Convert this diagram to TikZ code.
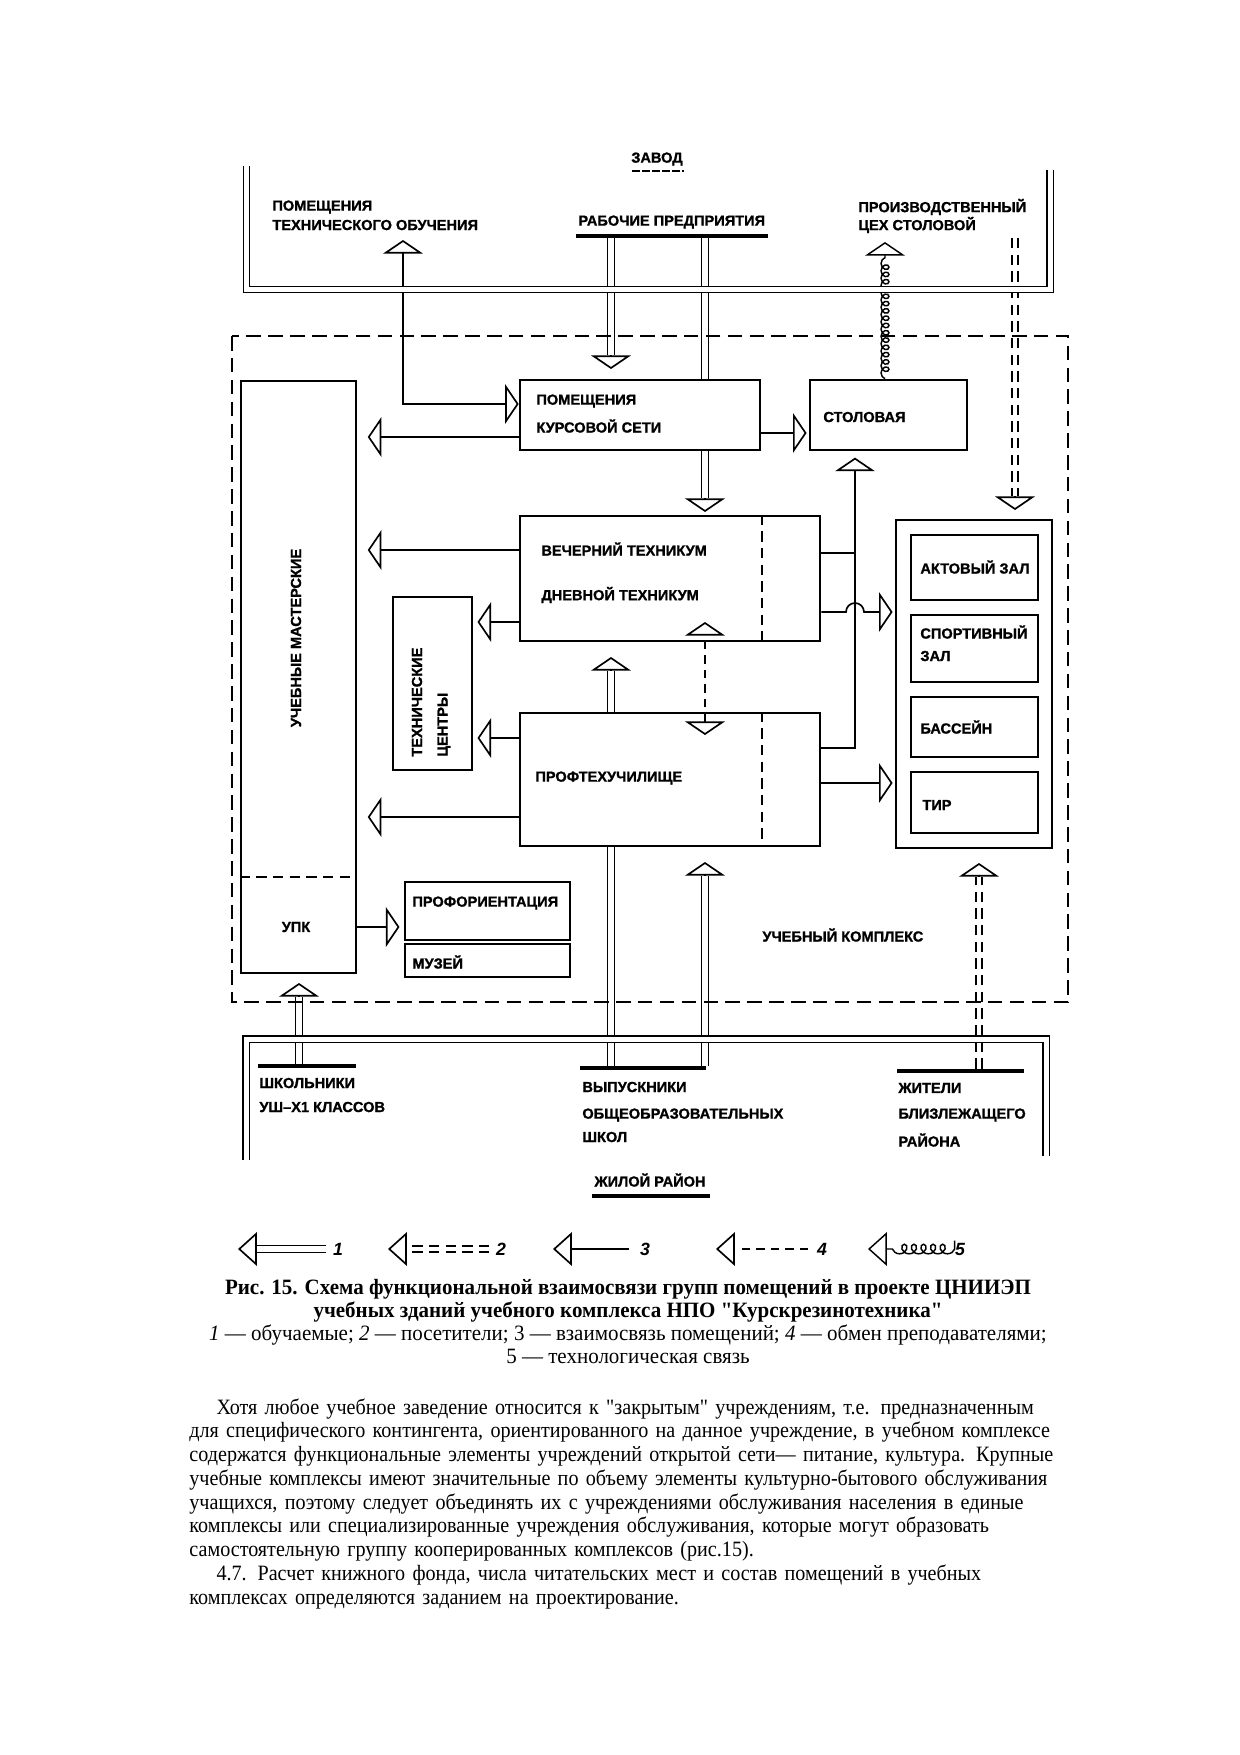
\documentclass[tikz,border=0pt]{standalone}
\usepackage{fontspec}
\setmainfont{Liberation Serif}
\setsansfont{Liberation Sans}[BoldFeatures = {FakeBold = 1.2}]
\newfontfamily\captfont{Liberation Serif}[FakeStretch = 0.96]
\newfontfamily\parafont{Liberation Serif}[FakeStretch = 0.92]
\usetikzlibrary{arrows.meta, fit, decorations.pathmorphing}

\newcommand\fullline[1]{\par\hbox to \hsize{#1}}
\newcommand\lastline[1]{\par\hbox{#1}}

\tikzset{
	lab/.style = {font = \sffamily\bfseries\fontsize{7}{7.5}\selectfont, inner sep = 0pt},
	labw/.style = {lab, anchor = west},
	legnum/.style = {font = \sffamily\bfseries\itshape\fontsize{8.5}{9}\selectfont, inner sep = 0pt},
	box/.style = {draw, line width = 1.3pt, inner sep = 0pt},
	inbox/.style = {draw, line width = 1pt, inner sep = 0pt},
	barbox/.style = {fill, inner sep = 0pt},
	inner dash/.style = {line width = 1.1pt, dash pattern = on 5pt off 3pt},
	frame/.style = {line width = 0.6pt, double, double distance = 2.4pt},
	rel/.style = {line width = 0.8pt, ->},
	obuch/.style = {line width = 0.6pt, double, double distance = 2.6pt},
	obuch arrow/.style = {rel, postaction = {obuch, draw, -, shorten >= #1}},
	obuch arrow/.default = 6.8pt,
	visit/.style = {line width = 0.6pt, double, double distance = 2.2pt, dash pattern = on 5pt off 3pt},
	visit arrow/.style = {rel, dash pattern = on 5pt off 3pt, postaction = {visit, draw, -, shorten >= #1}},
	visit arrow/.default = 6.8pt,
	teach/.style = {line width = 0.8pt, dash pattern = on 4pt off 3pt},
	techno/.style = {line width = 0.7pt, decorate,
		decoration = {coil, amplitude = 1.9pt, segment length = 3.5pt, aspect = 1, post length = 7pt}},
	capt/.style = {font = \captfont\fontsize{10.5}{11}\selectfont, align = center, inner sep = 0pt},
	para/.style = {font = \parafont\fontsize{10.5}{11.4}\selectfont, text width = 413pt, inner sep = 0pt},
}

\begin{document}
\begin{tikzpicture}[x = 0.48pt, y = -0.48pt, >= {Triangle[open, length = 6.5pt, width = 19pt]}]

	\useasboundingbox (0, 0) rectangle (1240, 1755);

	% Groups of rooms

	\node [box, fit = {(241, 381) (356, 973)}] (um) {};
	\node [box, fit = {(520, 380) (760, 450)}] (pks) {};
	\node [box, fit = {(810, 380) (967, 450)}] (stol) {};
	\node [box, fit = {(520, 516) (820, 641)}] (vt) {};
	\node [box, fit = {(520, 713) (820, 846)}] (ptu) {};
	\node [box, fit = {(393, 597) (472, 770)}] (tc) {};
	\node [box, fit = {(896, 520) (1052, 848)}] (vb) {};
	\node [inbox, fit = {(911, 535) (1038, 600)}] (akt) {};
	\node [inbox, fit = {(911, 615) (1038, 682)}] (sport) {};
	\node [inbox, fit = {(911, 697) (1038, 757)}] (bass) {};
	\node [inbox, fit = {(911, 772) (1038, 833)}] (tir) {};
	\node [box, fit = {(405, 882) (570, 977)}] (prof) {};

	\draw [inner dash] (um.west |- 0, 877) -- (um.east |- 0, 877);
	\draw [inner dash] (vt.north -| 762, 0) -- (vt.south -| 762, 0);
	\draw [inner dash] (ptu.north -| 762, 0) -- (ptu.south -| 762, 0);
	\draw [line width = 0.8pt, double, double distance = 1.4pt] (prof.west |- 0, 942) -- (prof.east |- 0, 942);

	% Labels

	\node [lab] (zavod) at (657, 159) {ЗАВОД};
	\node [labw] (pto1) at (272, 207) {ПОМЕЩЕНИЯ};
	\node [labw] (pto2) at (272, 225) {ТЕХНИЧЕСКОГО ОБУЧЕНИЯ};
	\node [labw] (rab) at (578, 222) {РАБОЧИЕ ПРЕДПРИЯТИЯ};
	\node [labw] (cex1) at (858, 207) {ПРОИЗВОДСТВЕННЫЙ};
	\node [labw] (cex2) at (858, 225) {ЦЕХ СТОЛОВОЙ};
	\node [labw] (pks1) at (536, 401) {ПОМЕЩЕНИЯ};
	\node [labw] (pks2) at (536, 426) {КУРСОВОЙ СЕТИ};
	\node [labw] (stol1) at (823, 417) {СТОЛОВАЯ};
	\node [labw] (vt1) at (541, 549) {ВЕЧЕРНИЙ ТЕХНИКУМ};
	\node [labw] (vt2) at (541, 595) {ДНЕВНОЙ ТЕХНИКУМ};
	\node [labw] (ptu1) at (535, 778) {ПРОФТЕХУЧИЛИЩЕ};
	\node [lab, rotate = 90] (um1) at (296, 638) {УЧЕБНЫЕ МАСТЕРСКИЕ};
	\node [labw, rotate = 90] (tc1) at (417, 757) {ТЕХНИЧЕСКИЕ};
	\node [labw, rotate = 90] (tc2) at (444, 757) {ЦЕНТРЫ};
	\node [lab] (upk) at (296, 927) {УПК};
	\node [labw] (akt1) at (920, 567) {АКТОВЫЙ ЗАЛ};
	\node [labw] (sport1) at (920, 632) {СПОРТИВНЫЙ};
	\node [labw] (sport2) at (920, 656) {ЗАЛ};
	\node [labw] (bass1) at (920, 727) {БАССЕЙН};
	\node [labw] (tir1) at (922, 805) {ТИР};
	\node [labw] (prof1) at (412, 903) {ПРОФОРИЕНТАЦИЯ};
	\node [labw] (muz) at (412, 962) {МУЗЕЙ};
	\node [labw] (uk) at (762, 935) {УЧЕБНЫЙ КОМПЛЕКС};
	\node [labw] (shk1) at (259, 1083) {ШКОЛЬНИКИ};
	\node [labw] (shk2) at (259, 1107) {УШ–Х1 КЛАССОВ};
	\node [labw] (vyp1) at (582, 1087) {ВЫПУСКНИКИ};
	\node [labw] (vyp2) at (582, 1115) {ОБЩЕОБРАЗОВАТЕЛЬНЫХ};
	\node [labw] (vyp3) at (582, 1137) {ШКОЛ};
	\node [labw] (zhit1) at (898, 1088) {ЖИТЕЛИ};
	\node [labw] (zhit2) at (898, 1115) {БЛИЗЛЕЖАЩЕГО};
	\node [labw] (zhit3) at (898, 1140) {РАЙОНА};
	\node [lab] (zhil) at (650, 1180) {ЖИЛОЙ РАЙОН};

	\node [barbox, fit = {(576, 234) (768, 238)}] (rabbar) {};
	\node [barbox, fit = {(258, 1064) (356, 1068)}] (shkbar) {};
	\node [barbox, fit = {(580, 1066) (706, 1070)}] (vypbar) {};
	\node [barbox, fit = {(897, 1069) (1024, 1073)}] (zhitbar) {};
	\node [barbox, fit = {(592, 1194) (710, 1198)}] (zhilbar) {};
	\draw [line width = 1.2pt, dash pattern = on 4pt off 0.8pt] (632, 171) -- (684, 171);

	% Arrow ends

	\coordinate (h-pto) at (403, 240);
	\coordinate (h-pks) at (611, 369);
	\coordinate (h-vt) at (705, 512);
	\coordinate (h-vt2) at (611, 657);
	\coordinate (h-ptu) at (705, 862);
	\coordinate (h-um) at (299, 983);
	\coordinate (s-vis) at (1015, 238);
	\coordinate (h-vb) at (1015, 510);
	\coordinate (h-vb2) at (979, 863);
	\coordinate (h-cex) at (885, 242);
	\coordinate (h-up) at (705, 622);
	\coordinate (h-down) at (705, 735);
	\coordinate (hop) at (846, 612);

	% 1 - trainees

	\draw [obuch arrow] (rabbar.south -| h-pks) -- (h-pks);
	\draw [obuch] (rabbar.south -| h-vt) -- (pks.north -| h-vt);
	\draw [obuch arrow] (pks.south -| h-vt) -- (h-vt);
	\draw [obuch arrow] (ptu.north -| h-vt2) -- (h-vt2);
	\draw [obuch] (vypbar.north -| h-vt2) -- (ptu.south -| h-vt2);
	\draw [obuch arrow] (vypbar.north -| h-ptu) -- (h-ptu);
	\draw [obuch arrow] (shkbar.north -| h-um) -- (h-um);

	% 2 - visitors

	\draw [visit arrow] (s-vis) -- (h-vb);
	\draw [visit arrow] (zhitbar.north -| h-vb2) -- (h-vb2);

	% 3 - relations of rooms

	\draw [rel, <->] (h-pto) |- (pks.west |- 0, 404);
	\draw [rel, shorten >= 5pt] (pks.west |- 0, 437) -- (um.east |- 0, 437);
	\draw [rel, shorten >= 5pt] (vt.west |- 0, 550) -- (um.east |- 0, 550);
	\draw [rel, shorten >= 2pt] (vt.west |- 0, 622) -- (tc.east |- 0, 622);
	\draw [rel, shorten >= 2pt] (ptu.west |- 0, 738) -- (tc.east |- 0, 738);
	\draw [rel, shorten >= 5pt] (ptu.west |- 0, 817) -- (um.east |- 0, 817);
	\draw [rel, shorten >= 1pt] (pks.east |- 0, 433) -- (stol.west |- 0, 433);
	\draw [rel, shorten >= 3pt] (ptu.east |- 0, 748) -| (stol.south -| 855, 0);
	\draw [line width = 0.8pt] (vt.east |- 0, 553) -- (855, 553);
	\draw [rel, shorten >= 1pt] (vt.east |- hop) -- (hop) arc [start angle = 180, end angle = 360, radius = 9] -- (vb.west |- hop);
	\draw [rel, shorten >= 1pt] (ptu.east |- 0, 783) -- (vb.west |- 0, 783);
	\draw [rel, shorten >= 2pt] (um.east |- 0, 927) -- (prof.west |- 0, 927);

	% 4 - exchange of teachers

	\draw [teach, <->] (h-down) -- (h-up);

	% 5 - technological link

	\draw [techno, ->] (stol.north -| h-cex) -- (h-cex);

	% Factory, teaching complex, residential district

	\draw [frame] (246.5, 166) -- (246.5, 289.5) -- (1050, 289.5) -- (1050, 170);
	\draw [frame] (246, 1160) -- (246, 1039) -- (1046, 1039) -- (1046, 1156);
	\draw [line width = 1.3pt, dash pattern = on 7pt off 3.5pt] (232, 336) rectangle (1068, 1002);

	% Legend

	\begin{scope}[>= {Triangle[open, length = 9pt, width = 16pt]}]
		\coordinate (l1) at (238, 1249);
		\coordinate (l2) at (388, 1249);
		\coordinate (l3) at (553, 1249);
		\coordinate (l4) at (716, 1249);
		\coordinate (l5) at (868, 1249);
		\node [legnum] (n1) at (338, 1249) {1};
		\node [legnum] (n2) at (501, 1249) {2};
		\node [legnum] (n3) at (645, 1249) {3};
		\node [legnum] (n4) at (822, 1249) {4};
		\node [legnum] (n5) at (960, 1249) {5};
		\draw [obuch arrow = 9.3pt, shorten <= 3pt] (n1.west) -- (l1);
		\draw [visit arrow = 9.3pt, shorten <= 3pt] (n2.west) -- (l2);
		\draw [rel, shorten <= 5pt] (n3.west) -- (l3);
		\draw [teach, ->, shorten <= 4pt] (n4.west) -- (l4);
		\draw [techno, ->, shorten <= 4pt, decoration = {amplitude = 2.3pt, segment length = 4.6pt, post length = 9.5pt}] (n5.west) -- (l5);
	\end{scope}

	% Caption and text

	\node [capt, anchor = north] (cap) at (628, 1279) {\textbf{Рис. 15. Схема функциональной взаимосвязи групп помещений в проекте ЦНИИЭП}\\
		\textbf{учебных зданий учебного комплекса НПО "Курскрезинотехника"}\\
		\textit{1} — обучаемые; \textit{2} — посетители; 3 — взаимосвязь помещений; \textit{4} — обмен преподавателями;\\
		5 — технологическая связь};

	\node [para, anchor = north west] (txt) at (189, 1390) {%
		\fullline{\hskip 13pt Хотя любое учебное заведение относится к "закрытым" учреждениям, т.е. предназначенным}%
		\fullline{для специфического контингента, ориентированного на данное учреждение, в учебном комплексе}%
		\fullline{содержатся функциональные элементы учреждений открытой сети— питание, культура. Крупные}%
		\fullline{учебные комплексы имеют значительные по объему элементы культурно-бытового обслуживания}%
		\fullline{учащихся, поэтому следует объединять их с учреждениями обслуживания населения в единые}%
		\fullline{комплексы или специализированные учреждения обслуживания, которые могут образовать}%
		\lastline{самостоятельную группу кооперированных комплексов (рис.15).}%
		\fullline{\hskip 13pt 4.7. Расчет книжного фонда, числа читательских мест и состав помещений в учебных}%
		\lastline{комплексах определяются заданием на проектирование.}};

\end{tikzpicture}
\end{document}
